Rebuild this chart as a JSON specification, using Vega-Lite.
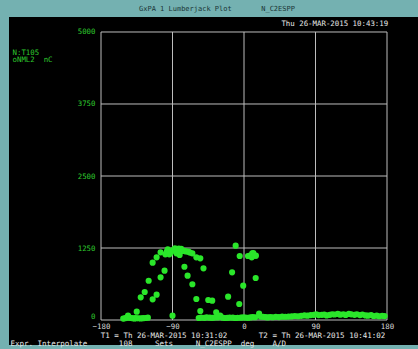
{
  "$schema": "https://vega.github.io/schema/vega-lite/v6.json",
  "width": 409,
  "height": 328,
  "autosize": {"type": "none"},
  "padding": {"left": 9, "top": 17, "right": 0, "bottom": 4},
  "background": "#74b1b1",
  "config": {"font": "DejaVu Sans Mono", "view": {"fill": "#000000", "stroke": null}},
  "title": {
    "text": "GxPA 1 Lumberjack Plot\u00a0\u00a0\u00a0\u00a0\u00a0\u00a0\u00a0N_C2ESPP",
    "subtitle": "\u200b\u00a0\u00a0\u00a0\u00a0\u00a0\u00a0\u00a0\u00a0\u00a0\u00a0\u00a0\u00a0\u00a0\u00a0\u00a0\u00a0\u00a0\u00a0\u00a0\u00a0\u00a0\u00a0\u00a0\u00a0\u00a0\u00a0\u00a0\u00a0\u00a0\u00a0\u00a0\u00a0Thu 26-MAR-2015 10:43:19",
    "anchor": "start",
    "frame": "group",
    "dx": 130,
    "offset": -10,
    "font": "DejaVu Sans Mono",
    "fontSize": 7,
    "fontWeight": "normal",
    "color": "#1a3535",
    "subtitleFont": "DejaVu Sans Mono",
    "subtitleFontSize": 7.4,
    "subtitleColor": "#e8e8e8",
    "subtitlePadding": 8
  },
  "layer": [
    {
      "data": {"values": [{"g": -180}, {"g": -90}, {"g": 0}, {"g": 90}, {"g": 180}]},
      "mark": {"type": "rule", "color": "#bdbdbd", "strokeWidth": 1},
      "encoding": {
        "x": {"field": "g", "type": "quantitative", "scale": {"domain": [-295.8, 219], "nice": false, "zero": false}},
        "y": {"datum": 0, "type": "quantitative", "scale": {"domain": [-434, 5260.4], "nice": false, "zero": false}},
        "y2": {"datum": 5000}
      }
    },
    {
      "data": {"values": [{"h": 0}, {"h": 1250}, {"h": 2500}, {"h": 3750}, {"h": 5000}]},
      "mark": {"type": "rule", "color": "#bdbdbd", "strokeWidth": 1},
      "encoding": {
        "y": {"field": "h", "type": "quantitative"},
        "x": {"datum": -180, "type": "quantitative"},
        "x2": {"datum": 180}
      }
    },
    {
      "data": {"values": [
        {"angle": -152, "value": 25}, {"angle": -150, "value": 30}, {"angle": -148, "value": 38}, {"angle": -146, "value": 75},
        {"angle": -144, "value": 40}, {"angle": -142, "value": 35}, {"angle": -140, "value": 30}, {"angle": -138, "value": 28},
        {"angle": -136, "value": 32}, {"angle": -133, "value": 30}, {"angle": -130, "value": 28}, {"angle": -127, "value": 32},
        {"angle": -124, "value": 35}, {"angle": -121, "value": 40},
        {"angle": -135, "value": 144}, {"angle": -130, "value": 394}, {"angle": -125, "value": 486}, {"angle": -120, "value": 682},
        {"angle": -115, "value": 995}, {"angle": -110, "value": 1088}, {"angle": -105, "value": 1175}, {"angle": -115, "value": 359},
        {"angle": -110, "value": 440}, {"angle": -105, "value": 741}, {"angle": -100, "value": 856}, {"angle": -99, "value": 1140},
        {"angle": -97, "value": 1190}, {"angle": -96, "value": 1227}, {"angle": -94, "value": 1140}, {"angle": -93, "value": 1160},
        {"angle": -90, "value": 1203}, {"angle": -89, "value": 1215}, {"angle": -87, "value": 1245}, {"angle": -85, "value": 1158},
        {"angle": -84, "value": 1200}, {"angle": -82, "value": 1240}, {"angle": -81, "value": 1128}, {"angle": -79, "value": 1235},
        {"angle": -77, "value": 1200}, {"angle": -75, "value": 1203}, {"angle": -73, "value": 1190}, {"angle": -70, "value": 1186},
        {"angle": -68, "value": 1170}, {"angle": -65, "value": 1158}, {"angle": -60, "value": 1088}, {"angle": -55, "value": 1071},
        {"angle": -75, "value": 925}, {"angle": -71, "value": 769}, {"angle": -65, "value": 620}, {"angle": -60, "value": 365},
        {"angle": -55, "value": 156}, {"angle": -51, "value": 897}, {"angle": -45, "value": 347}, {"angle": -40, "value": 335},
        {"angle": -35, "value": 134}, {"angle": -30, "value": 75}, {"angle": -90, "value": 75},
        {"angle": -20, "value": 405}, {"angle": -15, "value": 828}, {"angle": -10.5, "value": 1290}, {"angle": -5.4, "value": 1111},
        {"angle": -6, "value": 278}, {"angle": -1, "value": 596}, {"angle": 5, "value": 1111}, {"angle": 7.5, "value": 1117},
        {"angle": 9.7, "value": 1088}, {"angle": 10.4, "value": 1158}, {"angle": 11.7, "value": 1160}, {"angle": 13.8, "value": 1117},
        {"angle": 15, "value": 1117}, {"angle": 14.7, "value": 729}, {"angle": 19, "value": 110},
        {"angle": -57, "value": 35}, {"angle": -54, "value": 40}, {"angle": -50, "value": 38}, {"angle": -47, "value": 45},
        {"angle": -43, "value": 40}, {"angle": -40, "value": 38}, {"angle": -37, "value": 42}, {"angle": -33, "value": 45},
        {"angle": -27, "value": 40}, {"angle": -24, "value": 35}, {"angle": -21, "value": 38}, {"angle": -18, "value": 42},
        {"angle": -14, "value": 40}, {"angle": -11, "value": 35}, {"angle": -8, "value": 38}, {"angle": -4, "value": 40},
        {"angle": -1, "value": 45}, {"angle": 2, "value": 42}, {"angle": 5, "value": 38}, {"angle": 8, "value": 45},
        {"angle": 11, "value": 50}, {"angle": 14, "value": 48}, {"angle": 21, "value": 60}, {"angle": 24, "value": 55},
        {"angle": 27, "value": 50}, {"angle": 30, "value": 45}, {"angle": 33, "value": 52}, {"angle": 36, "value": 48},
        {"angle": 40, "value": 55}, {"angle": 44, "value": 50}, {"angle": 48, "value": 58}, {"angle": 52, "value": 57},
        {"angle": 56, "value": 60}, {"angle": 60, "value": 62}, {"angle": 64, "value": 70}, {"angle": 68, "value": 65},
        {"angle": 72, "value": 72}, {"angle": 76, "value": 80}, {"angle": 80, "value": 75}, {"angle": 84, "value": 85},
        {"angle": 88, "value": 90}, {"angle": 91, "value": 100}, {"angle": 94, "value": 85}, {"angle": 98, "value": 90},
        {"angle": 101, "value": 95}, {"angle": 104, "value": 80}, {"angle": 108, "value": 90}, {"angle": 111, "value": 100},
        {"angle": 114, "value": 95}, {"angle": 118, "value": 105}, {"angle": 121, "value": 92}, {"angle": 125, "value": 100},
        {"angle": 128, "value": 88}, {"angle": 132, "value": 105}, {"angle": 135, "value": 98}, {"angle": 139, "value": 90},
        {"angle": 142, "value": 100}, {"angle": 146, "value": 85}, {"angle": 149, "value": 95}, {"angle": 153, "value": 80},
        {"angle": 156, "value": 75}, {"angle": 160, "value": 85}, {"angle": 163, "value": 70}, {"angle": 167, "value": 75},
        {"angle": 170, "value": 65}, {"angle": 174, "value": 72}, {"angle": 177, "value": 68}
      ]},
      "mark": {"type": "circle", "size": 38, "color": "#2ae62a", "opacity": 1},
      "encoding": {
        "x": {
          "field": "angle", "type": "quantitative",
          "axis": {
            "values": [-180, -90, 0, 90, 180],
            "offset": -25,
            "domain": false, "ticks": false, "grid": false,
            "labelColor": "#d8d8d8", "labelFontSize": 7.4, "labelPadding": 2, "labelFlush": false,
            "labelFont": "DejaVu Sans Mono",
            "title": ["\u200b\u00a0\u00a0\u00a0\u00a0\u00a0\u00a0\u00a0\u00a0\u00a0\u00a0\u00a0\u00a0\u00a0\u00a0\u00a0\u00a0\u00a0\u00a0\u00a0\u00a0T1 = Th 26-MAR-2015 10:31:02\u00a0\u00a0\u00a0\u00a0\u00a0\u00a0\u00a0T2 = Th 26-MAR-2015 10:41:02",
                      "Expr. Interpolate\u00a0\u00a0\u00a0\u00a0\u00a0\u00a0\u00a0108\u00a0\u00a0\u00a0\u00a0\u00a0Sets\u00a0\u00a0\u00a0\u00a0\u00a0N_C2ESPP\u00a0\u00a0deg\u00a0\u00a0\u00a0\u00a0A/D"],
            "titleX": 1, "titleY": 11, "titleAlign": "left", "titleBaseline": "top",
            "titleFont": "DejaVu Sans Mono", "titleFontSize": 7.5, "titleFontWeight": "normal",
            "titleColor": "#e8e8e8", "titleLineHeight": 8
          }
        },
        "y": {
          "field": "value", "type": "quantitative",
          "axis": {
            "values": [0, 1250, 2500, 3750, 5000],
            "format": "d",
            "offset": -92,
            "domain": false, "ticks": false, "grid": false,
            "labelColor": "#2ec82e", "labelFontSize": 7.4, "labelPadding": 6, "labelFont": "DejaVu Sans Mono",
            "labelBaseline": {"condition": {"test": "datum.value === 0", "value": "bottom"}, "value": "middle"},
            "title": ["N:T105", "oNML2\u00a0\u00a0nC"],
            "titleAngle": 0, "titleAlign": "left", "titleBaseline": "top",
            "titleX": -89, "titleY": 31,
            "titleFont": "DejaVu Sans Mono", "titleFontSize": 7.4, "titleFontWeight": "normal",
            "titleColor": "#2ec82e", "titleLineHeight": 7.5
          }
        }
      }
    }
  ]
}
